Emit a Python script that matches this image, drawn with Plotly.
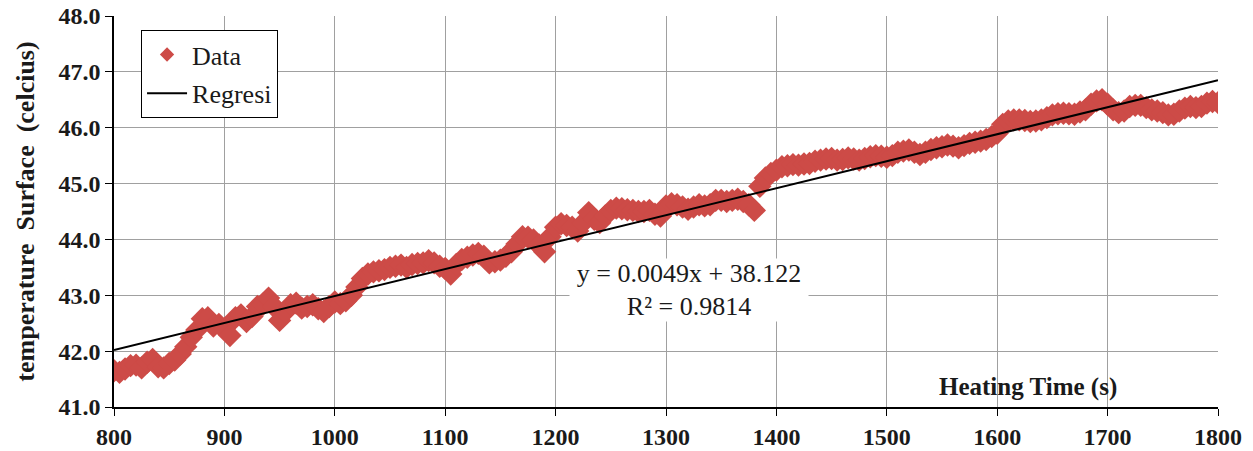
import numpy as np
import plotly.graph_objects as go

# Heating time (s), sampled every 5 s
time_s = list(range(800, 1801, 5))

# Surface temperature (celcius)
temp_c = [
    41.65, 41.62, 41.68, 41.74, 41.75, 41.70, 41.80, 41.85, 41.72, 41.70,
    41.78, 41.84, 41.95, 42.08, 42.25, 42.38, 42.58, 42.60, 42.45, 42.48,
    42.40, 42.28, 42.60, 42.65, 42.53, 42.62, 42.80, 42.84, 42.95, 42.80,
    42.55, 42.70, 42.83, 42.86, 42.77, 42.80, 42.83, 42.76, 42.71, 42.80,
    42.88, 42.85, 42.90, 43.00, 43.15, 43.30, 43.38, 43.42, 43.44, 43.46,
    43.50, 43.52, 43.54, 43.50, 43.55, 43.57, 43.58, 43.62, 43.58, 43.52,
    43.48, 43.38, 43.55, 43.64, 43.68, 43.72, 43.75, 43.70, 43.58, 43.60,
    43.63, 43.70, 43.78, 43.92, 44.05, 44.04, 43.99, 43.90, 43.78, 44.05,
    44.22, 44.28, 44.25, 44.22, 44.15, 44.30, 44.48, 44.36, 44.30, 44.42,
    44.52, 44.56, 44.55, 44.53, 44.52, 44.50, 44.50, 44.52, 44.45, 44.42,
    44.60, 44.64, 44.62, 44.58, 44.54, 44.58, 44.62, 44.60, 44.62, 44.70,
    44.70, 44.68, 44.70, 44.72, 44.68, 44.62, 44.52, 44.95, 45.10, 45.18,
    45.24, 45.30, 45.32, 45.34, 45.33, 45.35, 45.36, 45.40, 45.42, 45.44,
    45.45, 45.42, 45.43, 45.46, 45.44, 45.42, 45.45, 45.48, 45.50, 45.49,
    45.47, 45.50, 45.56, 45.58, 45.60, 45.56, 45.52, 45.56, 45.61, 45.64,
    45.66, 45.69, 45.67, 45.64, 45.68, 45.72, 45.74, 45.76, 45.79, 45.84,
    45.90, 46.06, 46.12, 46.14, 46.14, 46.13, 46.11, 46.12, 46.14, 46.18,
    46.23, 46.25, 46.26, 46.25, 46.24, 46.28, 46.32, 46.42, 46.48, 46.50,
    46.42, 46.32, 46.27, 46.30, 46.38, 46.40, 46.40, 46.36, 46.32, 46.30,
    46.27, 46.23, 46.24, 46.30, 46.35, 46.38, 46.36, 46.38, 46.44, 46.47,
    46.45,
]

# Regression line shown in the chart
reg_slope = 0.00483
reg_intercept = 38.156
reg_x = [800, 1800]
eq_text = "y = 0.0049x + 38.122<br>R² = 0.9814"

x_ticks = list(range(800, 1801, 100))
y_ticks = [41, 42, 43, 44, 45, 46, 47, 48]

reg_y = [reg_slope * v + reg_intercept for v in reg_x]

SERIF = "Liberation Serif, Times New Roman, serif"
TXT = "#1a1a1a"
RED = "#CD4B47"

fig = go.Figure()
fig.add_trace(go.Scatter(
    x=time_s, y=temp_c, mode="markers", name="Data", showlegend=False,
    legendgroup="data",
    marker=dict(symbol="diamond", size=18, color=RED, line=dict(width=0)),
))
# legend entry for the data series (smaller symbol, like the reference)
fig.add_trace(go.Scatter(
    x=[None], y=[None], mode="markers", name="Data", legendgroup="data",
    marker=dict(symbol="diamond", size=11, color=RED, line=dict(width=0)),
))
fig.add_trace(go.Scatter(
    x=reg_x, y=reg_y, mode="lines", name="Regresi",
    line=dict(color="black", width=2),
))

fig.add_annotation(
    x=1321, y=43.09, xref="x", yref="y", text=eq_text, showarrow=False,
    font=dict(family=SERIF, size=26, color=TXT),
    bgcolor="white", width=236, height=60, align="center",
)
fig.add_annotation(
    x=0.828, y=0.05, xref="paper", yref="paper", text="<b>Heating Time (s)</b>",
    showarrow=False, xanchor="center", yanchor="middle",
    font=dict(family=SERIF, size=25, color=TXT),
)

grid = "#A0A0A0"
fig.update_xaxes(
    range=[800, 1800], tickvals=x_ticks, showgrid=True, gridcolor=grid, gridwidth=1,
    showline=True, linecolor="black", linewidth=1.5, ticks="outside", ticklen=7,
    tickcolor="black", zeroline=False, automargin=False,
    tickfont=dict(family=SERIF, size=24, color=TXT, weight="bold"),
)
fig.update_yaxes(
    range=[41, 48], tickvals=y_ticks, tickformat=".1f", showgrid=True, gridcolor=grid,
    gridwidth=1, showline=True, linecolor="black", linewidth=1.5, ticks="outside",
    ticklen=7, tickcolor="black", zeroline=False, automargin=False,
    tickfont=dict(family=SERIF, size=24, color=TXT, weight="bold"),
    title=dict(text="temperature  Surface  (celcius)", standoff=16,
               font=dict(family=SERIF, size=26, color=TXT, weight="bold")),
)

fig.update_layout(
    width=1253, height=451,
    margin=dict(l=114, r=35, t=16, b=44),
    plot_bgcolor="white", paper_bgcolor="white",
    legend=dict(
        x=0.0245, y=0.964, xanchor="left", yanchor="top",
        bgcolor="white", bordercolor="black", borderwidth=1,
        font=dict(family=SERIF, size=26, color=TXT),
        itemwidth=40, tracegroupgap=2,
    ),
    showlegend=True,
)

fig.write_html(
    "out.html",
    config={"displayModeBar": False},
    post_script="document.body.style.margin='0';document.body.style.overflow='hidden';",
)
